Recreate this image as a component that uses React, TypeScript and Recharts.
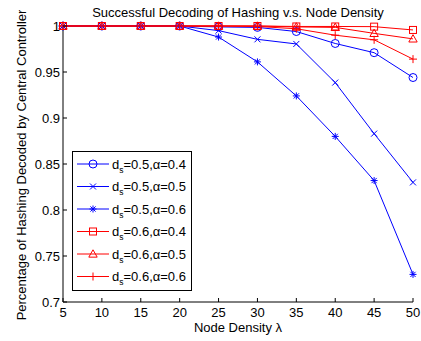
import React from 'react';
import { LineChart, Line, XAxis, YAxis, Legend } from 'recharts';

const lambdaValues = [5, 10, 15, 20, 25, 30, 35, 40, 45, 50];
const ds05a04 = [1, 1, 1, 1, 0.999, 0.9985, 0.994, 0.981, 0.971, 0.944];
const ds05a05 = [1, 1, 1, 1, 0.995, 0.9855, 0.9805, 0.9385, 0.883, 0.830];
const ds05a06 = [1, 1, 1, 1, 0.988, 0.961, 0.924, 0.880, 0.832, 0.730];
const ds06a04 = [1, 1, 1, 1, 1, 1, 0.9995, 0.9995, 0.9993, 0.9957];
const ds06a05 = [1, 1, 1, 1, 1, 1, 0.999, 0.9985, 0.992, 0.986];
const ds06a06 = [1, 1, 1, 1, 1, 0.9995, 0.997, 0.990, 0.985, 0.964];

const xTicks = [5, 10, 15, 20, 25, 30, 35, 40, 45, 50];
const yTicks = [0.7, 0.75, 0.8, 0.85, 0.9, 0.95, 1];

const titleText = 'Successful Decoding of Hashing v.s. Node Density';
const xLabelText = 'Node Density \u03bb';
const yLabelText = 'Percentage of Hashing Decoded by Central Controller';

const series = [
  { key: 's1', ds: '0.5', alpha: '0.4', color: '#0000ff', marker: 'circle', values: ds05a04 },
  { key: 's2', ds: '0.5', alpha: '0.5', color: '#0000ff', marker: 'x', values: ds05a05 },
  { key: 's3', ds: '0.5', alpha: '0.6', color: '#0000ff', marker: 'star', values: ds05a06 },
  { key: 's4', ds: '0.6', alpha: '0.4', color: '#ff0000', marker: 'square', values: ds06a04 },
  { key: 's5', ds: '0.6', alpha: '0.5', color: '#ff0000', marker: 'triangle', values: ds06a05 },
  { key: 's6', ds: '0.6', alpha: '0.6', color: '#ff0000', marker: 'plus', values: ds06a06 },
];

const data = lambdaValues.map((l, i) => {
  const row: any = { lambda: l };
  series.forEach((s) => {
    row[s.key] = s.values[i];
  });
  return row;
});

const FONT = '"Liberation Sans", Arial, Helvetica, sans-serif';

function Marker({ cx, cy, shape, color }: { cx: number; cy: number; shape: string; color: string }) {
  const sw = 1;
  switch (shape) {
    case 'circle':
      return <circle cx={cx} cy={cy} r={4} fill="none" stroke={color} strokeWidth={sw} />;
    case 'x': {
      const h = 3;
      return (
        <g stroke={color} strokeWidth={sw}>
          <line x1={cx - h} y1={cy - h} x2={cx + h} y2={cy + h} />
          <line x1={cx - h} y1={cy + h} x2={cx + h} y2={cy - h} />
        </g>
      );
    }
    case 'star': {
      const h = 3.5;
      const d = 2.6;
      return (
        <g stroke={color} strokeWidth={sw}>
          <line x1={cx - h} y1={cy} x2={cx + h} y2={cy} />
          <line x1={cx} y1={cy - h} x2={cx} y2={cy + h} />
          <line x1={cx - d} y1={cy - d} x2={cx + d} y2={cy + d} />
          <line x1={cx - d} y1={cy + d} x2={cx + d} y2={cy - d} />
        </g>
      );
    }
    case 'square': {
      const h = 3.5;
      return <rect x={cx - h} y={cy - h} width={2 * h} height={2 * h} fill="none" stroke={color} strokeWidth={sw} />;
    }
    case 'triangle': {
      const h = 4.2;
      return (
        <polygon
          points={`${cx},${cy - h} ${cx + h},${cy + h * 0.75} ${cx - h},${cy + h * 0.75}`}
          fill="none"
          stroke={color}
          strokeWidth={sw}
        />
      );
    }
    case 'plus': {
      const h = 4;
      return (
        <g stroke={color} strokeWidth={sw}>
          <line x1={cx - h} y1={cy} x2={cx + h} y2={cy} />
          <line x1={cx} y1={cy - h} x2={cx} y2={cy + h} />
        </g>
      );
    }
    default:
      return null;
  }
}

function XTick(props: any) {
  const { x, y, payload } = props;
  const axisY = y - 6;
  return (
    <g>
      <line x1={x} x2={x} y1={axisY} y2={axisY - 4} stroke="#000" strokeWidth={1} />
      <text x={x} y={y} dy="0.71em" textAnchor="middle" fontFamily={FONT} fontSize={13} fill="#000">
        {payload.value}
      </text>
    </g>
  );
}

function YTick(props: any) {
  const { x, y, payload } = props;
  const axisX = x + 3;
  return (
    <g>
      <line x1={axisX} x2={axisX + 4} y1={y} y2={y} stroke="#000" strokeWidth={1} />
      <text x={x} y={y} dy="0.355em" textAnchor="end" fontFamily={FONT} fontSize={13} fill="#000">
        {payload.value}
      </text>
    </g>
  );
}

function LegendBox() {
  const rowH = 22.5;
  return (
    <svg width={121} height={141} style={{ display: 'block' }}>
      <rect x={0.5} y={0.5} width={119} height={139} fill="#fff" stroke="#000" strokeWidth={1} />
      {series.map((s, i) => {
        const cy = 13 + i * rowH;
        return (
          <g key={s.key}>
            <line x1={5} x2={37} y1={cy} y2={cy} stroke={s.color} strokeWidth={1} />
            <Marker cx={21} cy={cy} shape={s.marker} color={s.color} />
            <text x={40} y={cy + 4.5} fontFamily={FONT} fontSize={13} fill="#000">
              d
              <tspan fontSize={8.5} dy={4}>s</tspan>
              <tspan dy={-4}>{`=${s.ds},\u03b1=${s.alpha}`}</tspan>
            </text>
          </g>
        );
      })}
    </svg>
  );
}

export default function App() {
  return (
    <div style={{ position: 'absolute', left: 0, top: 0, width: 421, height: 341, background: '#fff' }}>
      <LineChart width={421} height={341} data={data} margin={{ top: 26, right: 8, left: 8, bottom: 0 }}>
        <XAxis
          dataKey="lambda"
          type="number"
          domain={[5, 50]}
          ticks={xTicks}
          interval={0}
          height={39}
          tickLine={false}
          tickSize={0}
          tickMargin={6}
          tick={<XTick />}
          axisLine={{ stroke: '#000', strokeWidth: 1 }}
          label={{
            content: (p: any) => {
              const vb = p.viewBox || { x: 63, y: 302, width: 350, height: 39 };
              return (
                <text
                  x={vb.x + vb.width / 2}
                  y={vb.y + 30}
                  textAnchor="middle"
                  fontFamily={FONT}
                  fontSize={13}
                  fill="#000"
                >
                  {xLabelText}
                </text>
              );
            },
          }}
        />
        <YAxis
          type="number"
          domain={[0.7, 1]}
          ticks={yTicks}
          interval={0}
          width={55}
          tickLine={false}
          tickSize={0}
          tickMargin={3}
          tick={<YTick />}
          axisLine={{ stroke: '#000', strokeWidth: 1 }}
          label={{
            content: (p: any) => {
              const vb = p.viewBox || { x: 8, y: 26, width: 55, height: 276 };
              const cy = vb.y + vb.height / 2 + 1;
              return (
                <g>
                  <text
                    transform={`translate(${vb.x + 17.5},${cy}) rotate(-90)`}
                    textAnchor="middle"
                    fontFamily={FONT}
                    fontSize={13}
                    fill="#000"
                  >
                    {yLabelText}
                  </text>
                  <text
                    x={vb.x + vb.width + 175}
                    y={17}
                    textAnchor="middle"
                    fontFamily={FONT}
                    fontSize={13}
                    fill="#000"
                  >
                    {titleText}
                  </text>
                </g>
              );
            },
          }}
        />
        {series.map((s) => (
          <Line
            key={s.key}
            dataKey={s.key}
            stroke={s.color}
            strokeWidth={1}
            isAnimationActive={false}
            activeDot={false}
            dot={(p: any) => (
              <Marker key={`${s.key}-${p.index}`} cx={p.cx} cy={p.cy} shape={s.marker} color={s.color} />
            )}
          />
        ))}
        <Legend
          layout="horizontal"
          verticalAlign="middle"
          align="center"
          wrapperStyle={{ position: 'absolute', left: 72, top: 151, width: 121, height: 141 }}
          content={() => <LegendBox />}
        />
      </LineChart>
    </div>
  );
}
